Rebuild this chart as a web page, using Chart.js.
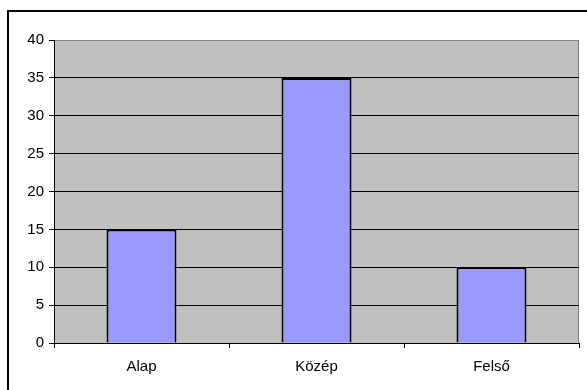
<!DOCTYPE html>
<html>
<head>
<meta charset="utf-8">
<script src="https://cdn.jsdelivr.net/npm/chart.js@4/dist/chart.umd.min.js"></script>
<style>
  html, body { margin: 0; padding: 0; background: #fff; }
  #wrap { width: 587px; height: 390px; }
</style>
</head>
<body>
<div id="wrap"><canvas id="myChart" width="587" height="390"></canvas></div>
<script>
'use strict';

// categories and values
var labels = ['Alap', 'Közép', 'Felső'];
var values = [15, 35, 10];
// y axis range
var yTicks = [0, 5, 10, 15, 20, 25, 30, 35, 40];

//frame around the whole chart + grey plot area
var frame = {
   id: 'frame',
   beforeDraw: function (chart) {
      var ctx = chart.ctx, a = chart.chartArea;
      ctx.save();
      ctx.fillStyle = '#ffffff';
      ctx.fillRect(0, 0, chart.width, chart.height);
      ctx.strokeStyle = '#000000';
      ctx.lineWidth = 2;
      ctx.strokeRect(8, 11, chart.width + 20, chart.height + 20);
      ctx.fillStyle = '#c0c0c0';
      ctx.fillRect(a.left, a.top, a.right - a.left, a.bottom - a.top);
      ctx.strokeStyle = '#808080';
      ctx.lineWidth = 1;
      ctx.beginPath();
      ctx.moveTo(a.left, a.top + 0.5);
      ctx.lineTo(a.right - 0.5, a.top + 0.5);
      ctx.lineTo(a.right - 0.5, a.bottom);
      ctx.stroke();
      ctx.restore();
   }
};

var ctx = document.getElementById('myChart').getContext('2d');
var myChart = new Chart(ctx, {
   type: 'bar',
   data: {
      labels: labels,
      datasets: [{
         data: values,
         backgroundColor: '#9999ff',
         borderColor: '#000000',
         borderWidth: 2,
         barPercentage: 0.4,
         categoryPercentage: 1
      }]
   },
   plugins: [frame],
   options: {
      responsive: false,
      animation: false,
      layout: { padding: { top: 40, right: 8, left: 0, bottom: 0 } },
      plugins: {
         legend: { display: false },
         tooltip: { enabled: false }
      },
      scales: {
         x: {
            offset: true,
            grid: {
               offset: true,
               drawOnChartArea: false,
               drawTicks: true,
               tickLength: 5,
               color: '#000000'
            },
            border: { color: '#000000', width: 1 },
            ticks: {
               color: '#000000',
               padding: 10,
               font: { family: 'Liberation Sans', size: 15 }
            },
            afterFit: function (scale) { scale.height = 47; }
         },
         y: {
            min: yTicks[0],
            max: yTicks[yTicks.length - 1],
            afterBuildTicks: function (scale) {
               scale.ticks = yTicks.map(function (v) { return { value: v }; });
            },
            grid: {
               color: function (c) {
                  return c.tick && c.tick.value === yTicks[yTicks.length - 1] ? '#808080' : '#000000';
               },
               tickColor: '#000000',
               tickLength: 5
            },
            border: { color: '#000000', width: 1 },
            ticks: {
               color: '#000000',
               padding: 5,
               font: { family: 'Liberation Sans', size: 15 }
            },
            afterFit: function (scale) { scale.width = 54; }
         }
      }
   }
});
</script>
</body>
</html>
